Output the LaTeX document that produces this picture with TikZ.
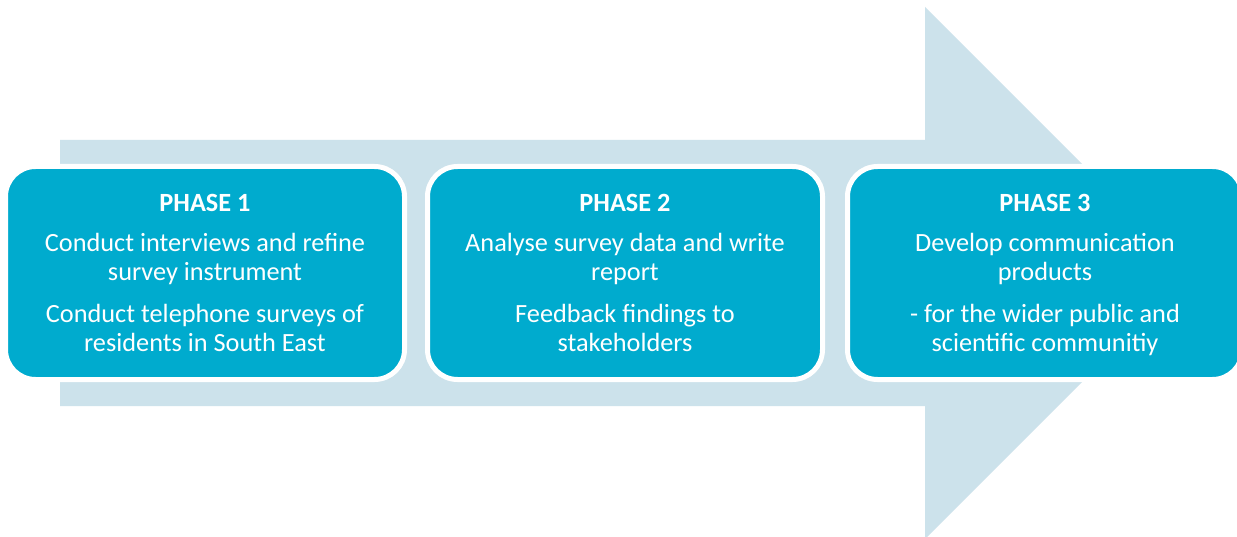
\documentclass[tikz,border=0pt]{standalone}
\usepackage{fontspec}
\setmainfont{Carlito}
\definecolor{arrowblue}{RGB}{204,226,235}
\definecolor{boxblue}{RGB}{0,171,206}
\begin{document}
\begin{tikzpicture}[x=1pt,y=-1pt,
  phasebox/.style={draw=white, line width=5pt, fill=boxblue, rounded corners=30pt,
    inner sep=0pt, minimum height=213pt},
  phasetext/.style={text=white, align=center, inner sep=0pt,
    font=\fontsize{26.3}{29}\selectfont},
  bigarrow/.style={fill=arrowblue, draw=none}]
\useasboundingbox (0,0) rectangle (1237,537);
\fill[white] (0,0) rectangle (1237,537);
\path[bigarrow] (60,140) -- (925,140) -- (925,7) -- (1191,273) -- (925,539) -- (925,406) -- (60,406) -- cycle;
\node[phasebox, minimum width=399pt] (p1) at (205,273) {};
\node[phasebox, minimum width=395pt] (p2) at (625,273) {};
\node[phasebox, minimum width=395pt] (p3) at (1045,273) {};
\node[phasetext, yshift=-4pt] (t1) at (p1.center)
  {\textbf{PHASE 1}\\[11pt]Conduct interviews and refine\\survey instrument\\[13pt]Conduct telephone surveys of\\residents in South East\strut};
\node[phasetext, yshift=-4pt] (t2) at (p2.center)
  {\textbf{PHASE 2}\\[11pt]Analyse survey data and write\\report\\[13pt]Feedback findings to\\stakeholders\strut};
\node[phasetext, yshift=-4pt] (t3) at (p3.center)
  {\textbf{PHASE 3}\\[11pt]Develop communication\\products\\[13pt]- for the wider public and\\scientific communitiy\strut};
\end{tikzpicture}
\end{document}
